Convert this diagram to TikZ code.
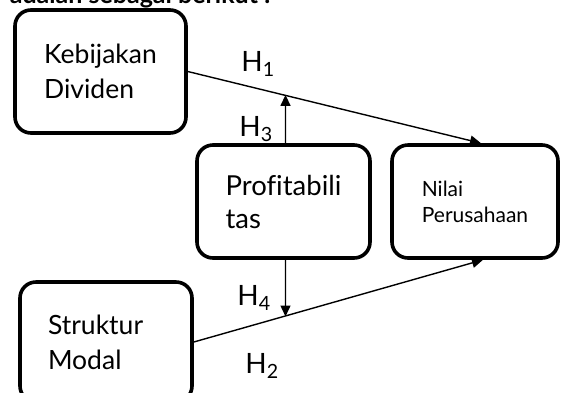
\documentclass[tikz,border=0pt]{standalone}
\usepackage{fontspec}
\setmainfont{Lato}[Ligatures=CommonOff]
\usetikzlibrary{arrows.meta,positioning,calc}

\begin{document}
\begin{tikzpicture}[x=1pt,y=-1pt,
  box/.style={draw,line width=3.6pt,rounded corners=16pt,align=left,inner sep=0pt},
  link/.style={line width=1.4pt,-{Triangle[length=11pt,width=10pt]}},
  hyp/.style={font=\fontsize{28}{30}\selectfont}]
\useasboundingbox (0,0) rectangle (561,392);
\clip (0,0) rectangle (561,392);
\node[anchor=base east,font=\bfseries\fontsize{25}{30}\selectfont] (intro) at (274,3) {adalah sebagai berikut :};
% the four variables
\node[box,minimum width=171pt,minimum height=123pt,font=\fontsize{26.5}{35}\selectfont] (keb) at (100.5,71.5) {Kebijakan\\Dividen};
\node[box,minimum width=173pt,minimum height=113pt,font=\fontsize{27.5}{33}\selectfont] (prof) at (283.5,201.5) {Profitabili\\tas};
\node[box,minimum width=166pt,minimum height=113pt,font=\fontsize{21}{26}\selectfont] (nilai) at (475,201.5) {Nilai\\Perusahaan};
\node[box,minimum width=172pt,minimum height=120pt,text width=116pt,font=\fontsize{26.5}{35}\selectfont] (struk) at (106,342) {Struktur\\Modal};
% hypotheses
\coordinate (intop) at ([xshift=6pt]nilai.north);
\coordinate (inbot) at ([xshift=8pt]nilai.south);
\draw[link] (keb.east) -- (intop);
\draw[link] (struk.east) -- (inbot);
\coordinate (h3tip) at (intersection of keb.east--intop and prof.north--prof.center);
\coordinate (h4tip) at (intersection of struk.east--inbot and prof.south--prof.center);
\draw[link] ([xshift=2pt]prof.north) -- ([xshift=2pt]h3tip);
\draw[link] ([xshift=2pt]prof.south) -- ([xshift=2pt]h4tip);
\node[hyp] (h1) at (258,64) {H\textsubscript{1}};
\node[hyp] (h3) at (256,129) {H\textsubscript{3}};
\node[hyp] (h4) at (254,298) {H\textsubscript{4}};
\node[hyp] (h2) at (262,366) {H\textsubscript{2}};
\end{tikzpicture}
\end{document}
